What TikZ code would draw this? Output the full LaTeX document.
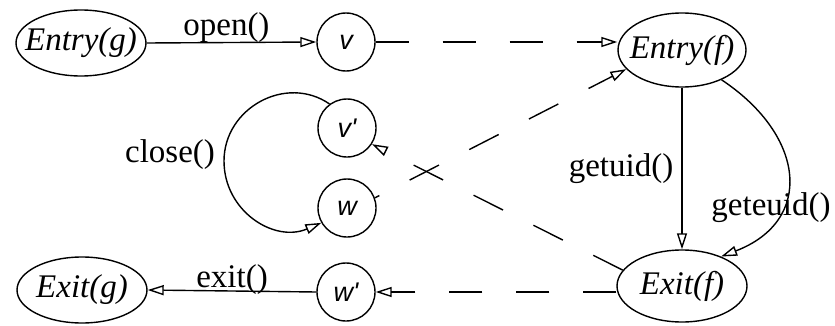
\documentclass[tikz,border=0pt]{standalone}
\usepackage{fontspec}
\setmainfont{Liberation Serif}
\newfontfamily\circfont{Liberation Sans}
\usetikzlibrary{arrows.meta,shapes.geometric}
\begin{document}
\begin{tikzpicture}[x=1pt,y=1pt,
  every node/.style={font=\fontsize{33}{38}\selectfont},
  ell/.style={draw, ellipse, line width=1.4pt, inner sep=0pt},
  circ/.style={draw, circle, minimum size=58pt, inner sep=0pt, line width=1.4pt,
    font=\circfont\itshape\fontsize{27}{32}\selectfont},
  arr/.style={line width=1.4pt, -{Triangle[open,length=16pt,width=10pt]}},
  dsh/.style={dash pattern=on 33pt off 34pt},
  lbl/.style={inner sep=0pt}
]
\useasboundingbox (0,0) rectangle (835,325);

\node[ell, minimum width=130pt, minimum height=66pt] (eg) at (81,282) {\makebox[0pt]{\itshape Entry(g)}};
\node[circ] (v) at (346,283) {v};
\node[ell, minimum width=128pt, minimum height=74pt] (ef) at (682,275) {\makebox[0pt]{\itshape Entry(f)}};
\node[circ] (vp) at (347,197) {v'};
\node[circ] (w) at (347,117) {w};
\node[ell, minimum width=130pt, minimum height=66pt] (xg) at (82,35) {\makebox[0pt]{\itshape Exit(g)}};
\node[circ] (wp) at (346,33) {w'};
\node[ell, minimum width=130pt, minimum height=72pt] (xf) at (682,39) {\makebox[0pt]{\itshape Exit(f)}};

\draw[arr] (eg.east) -- (v.west) node[lbl, pos=0.47, anchor=base, yshift=7pt] (lopen) {open()};
\draw[arr,dsh] (v.east) -- (v.east -| ef.west);

\coordinate (cl) at (224,164);
\draw[arr] (vp.126) .. controls (286,251) and (224,217) .. (cl) .. controls (224,114) and (274,82) .. (w.210);
\node[lbl] (lclose) at (170,170) {close()};

\draw[arr,dsh,dash phase=28pt] (w.20) -- (ef.199);
\draw[arr,dsh] (xf.165) -- (vp.-33);

\draw[arr] (ef.south) -- (xf.north) node[lbl, midway, left=8pt] (lgetuid) {getuid()};
\draw[arr] (ef.-37) .. controls (806,189) and (814,104) .. (xf.37);
\node[lbl] (lgeteuid) at (771,117) {geteuid()};

\draw[arr] (wp.west) -- (xg.east) node[lbl, midway, anchor=base, yshift=4pt] (lexit) {exit()};
\draw[arr,dsh] (wp.east -| xf.west) -- (wp.east);
\end{tikzpicture}
\end{document}
